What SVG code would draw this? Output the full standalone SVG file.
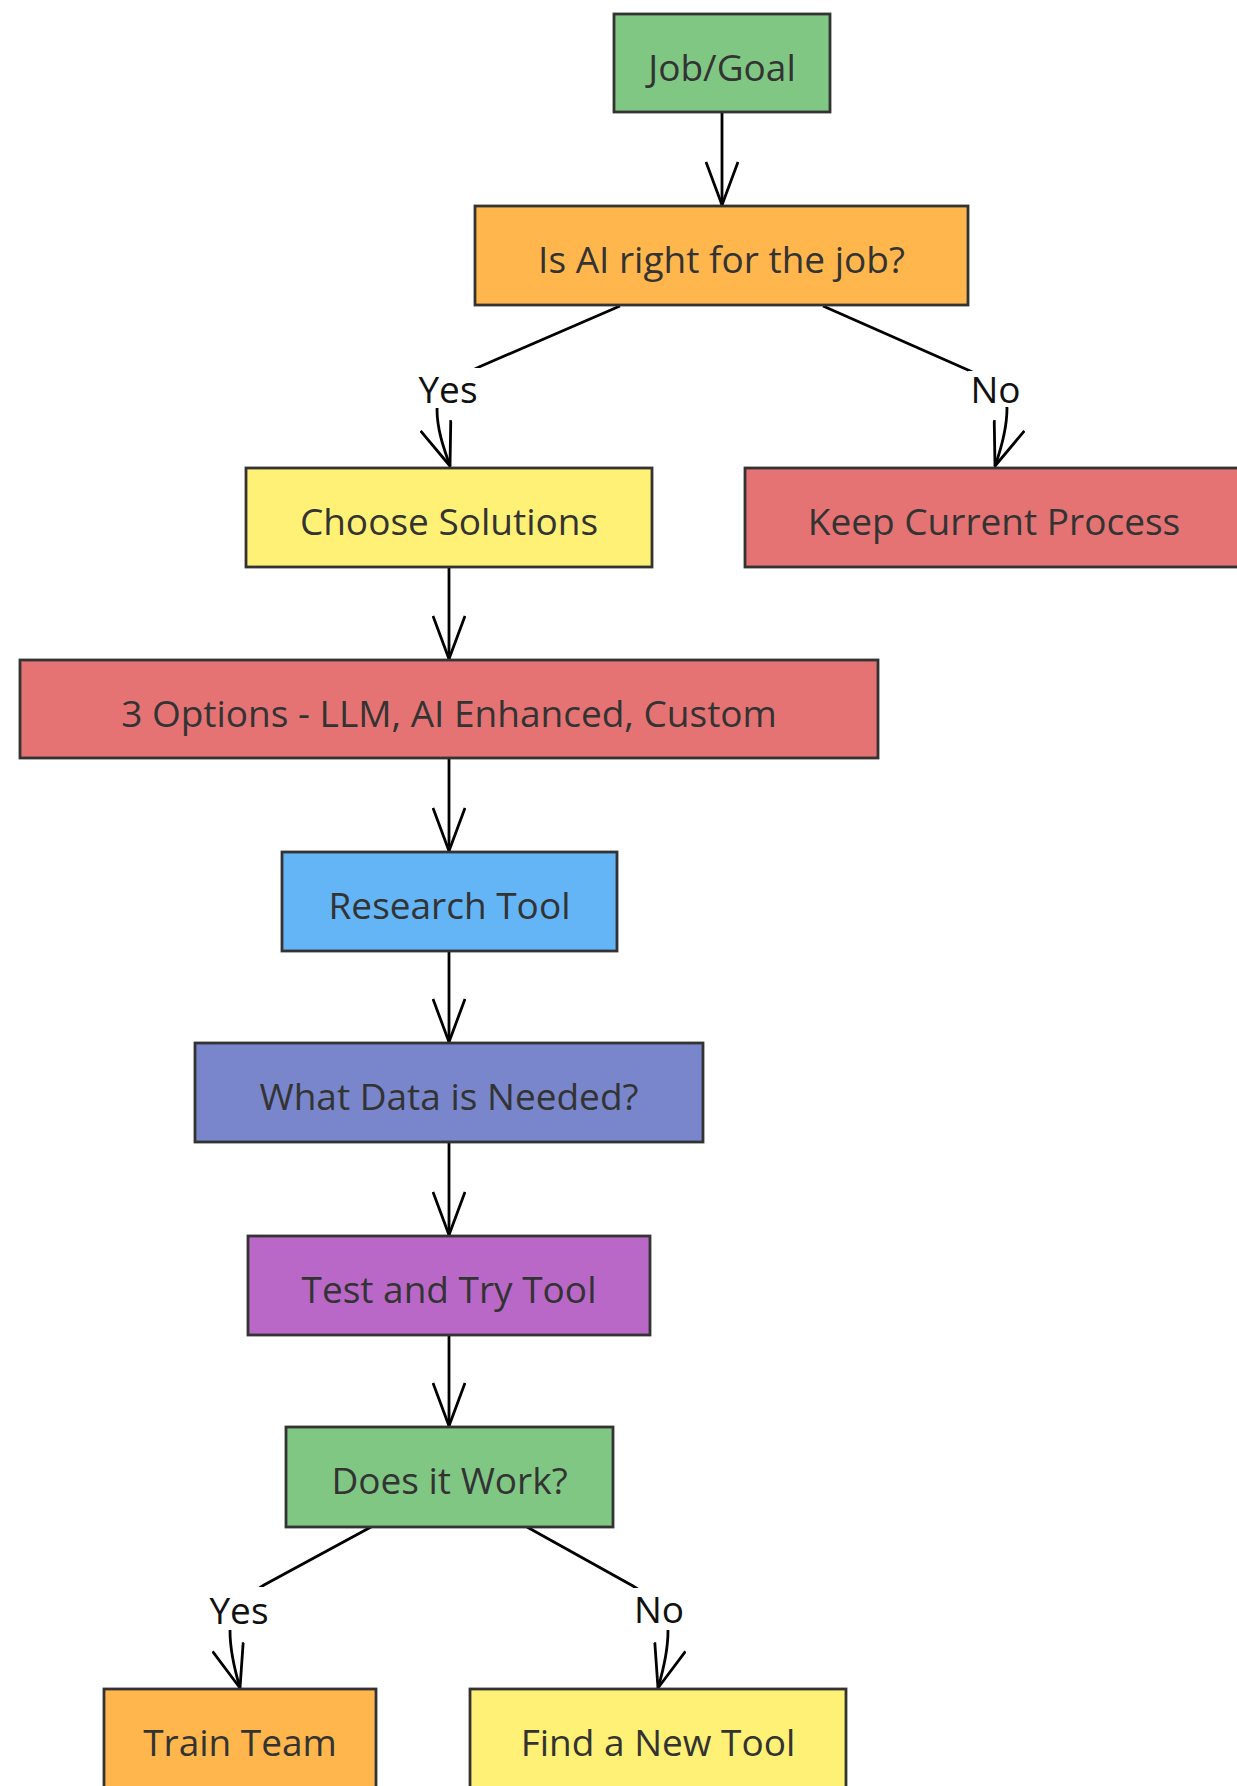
<svg xmlns="http://www.w3.org/2000/svg" width="1237" height="1786" viewBox="0 0 1237 1786">
<style>
.node rect{stroke:#333;stroke-width:2.8}
.node text,.lbl text{font-family:"Open Sans","Noto Sans","DejaVu Sans",sans-serif;font-size:37px;fill:#333;text-anchor:middle}
.lbl text{fill:#111}
.edge{fill:none;stroke:#000;stroke-width:2.8}
.green{fill:#81c784}.orange{fill:#ffb74d}.yellow{fill:#fff176}.red{fill:#e57373}.blue{fill:#64b5f6}.indigo{fill:#7986cb}.purple{fill:#ba68c8}
</style>
<defs>
<marker id="arr" viewBox="0 0 46 34" refX="44" refY="17" markerUnits="userSpaceOnUse" markerWidth="46" markerHeight="34" orient="auto">
<path d="M1,1 L44,17 L1,33" fill="none" stroke="#000" stroke-width="2.8" stroke-linejoin="round"/>
</marker>
</defs>
<rect width="1237" height="1786" fill="#fff"/>
<g id="connectors">
<path class="edge" d="M722,112 L722,205" marker-end="url(#arr)"/>
<path class="edge" d="M620,306 L479,367 Q440,384 437,409 C437,430 444,449 450,466" marker-end="url(#arr)"/>
<path class="edge" d="M823,306 L968,370 Q1005,386 1007,408 C1007,430 1001,449 995,466" marker-end="url(#arr)"/>
<path class="edge" d="M449,567 L449,659" marker-end="url(#arr)"/>
<path class="edge" d="M449,758 L449,851" marker-end="url(#arr)"/>
<path class="edge" d="M449,951 L449,1042" marker-end="url(#arr)"/>
<path class="edge" d="M449,1142 L449,1235" marker-end="url(#arr)"/>
<path class="edge" d="M449,1335 L449,1426" marker-end="url(#arr)"/>
<path class="edge" d="M371,1527 L264,1585 Q232,1605 230,1631 C230,1652 235,1671 240,1688" marker-end="url(#arr)"/>
<path class="edge" d="M527,1527 L633,1586 Q666,1606 668,1631 C668,1652 663,1671 658,1688" marker-end="url(#arr)"/>
<g class="lbl">
<rect x="416" y="368" width="64" height="40" fill="#fff"/>
<text x="448" y="403">Yes</text>
<rect x="968" y="371" width="56" height="36" fill="#fff"/>
<text x="995.5" y="403">No</text>
<rect x="207" y="1587" width="64" height="43" fill="#fff"/>
<text x="239" y="1624">Yes</text>
<rect x="632" y="1588" width="56" height="42" fill="#fff"/>
<text x="659" y="1623">No</text>
</g>
</g>
<g id="job" class="node"><rect class="green" x="614" y="14" width="216" height="98"/><text x="722" y="81">Job/Goal</text></g>
<g id="isai" class="node"><rect class="orange" x="475" y="206" width="493" height="99"/><text x="721.5" y="273">Is AI right for the job?</text></g>
<g id="choose" class="node"><rect class="yellow" x="246" y="468" width="406" height="99"/><text x="449" y="535">Choose Solutions</text></g>
<g id="keep" class="node"><rect class="red" x="745" y="468" width="498" height="99"/><text x="994" y="535">Keep Current Process</text></g>
<g id="options" class="node"><rect class="red" x="20" y="660" width="858" height="98"/><text x="449" y="726.5">3 Options - LLM, AI Enhanced, Custom</text></g>
<g id="research" class="node"><rect class="blue" x="282" y="852" width="335" height="99"/><text x="449.5" y="919">Research Tool</text></g>
<g id="data" class="node"><rect class="indigo" x="195" y="1043" width="508" height="99"/><text x="449" y="1110">What Data is Needed?</text></g>
<g id="test" class="node"><rect class="purple" x="248" y="1236" width="402" height="99"/><text x="449" y="1303">Test and Try Tool</text></g>
<g id="works" class="node"><rect class="green" x="286" y="1427" width="327" height="100"/><text x="449.5" y="1494">Does it Work?</text></g>
<g id="train" class="node"><rect class="orange" x="104" y="1689" width="272" height="99"/><text x="240" y="1756">Train Team</text></g>
<g id="find" class="node"><rect class="yellow" x="470" y="1689" width="376" height="99"/><text x="658" y="1756">Find a New Tool</text></g>
</svg>
